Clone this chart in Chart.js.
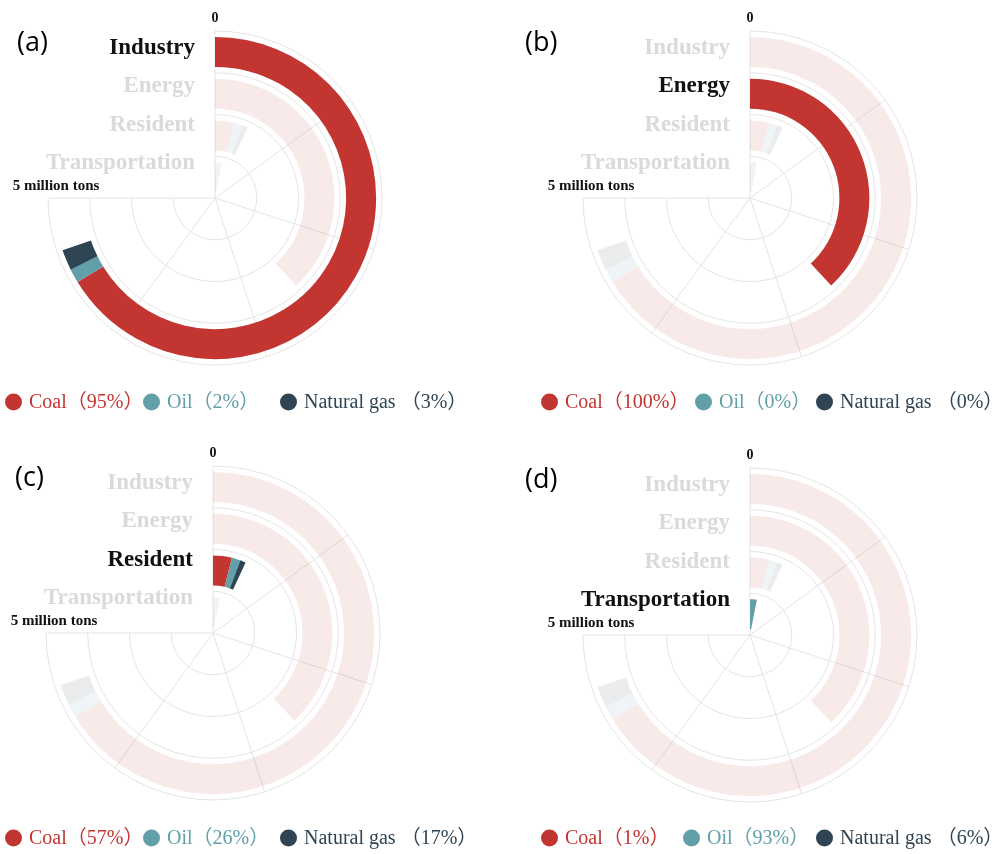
<!DOCTYPE html>
<html>
<head>
<meta charset="utf-8">
<script src="https://cdn.jsdelivr.net/npm/chart.js@4.4.1/dist/chart.umd.min.js"></script>
<style>
  body { margin: 0; background: #fff; }
  #page { position: relative; width: 1006px; height: 854px; overflow: hidden; }
  #page canvas { position: absolute; }
</style>
</head>
<body>
<div id="page">
  <canvas id="chartA" width="503" height="427" style="left:0;top:0"></canvas>
  <canvas id="chartB" width="503" height="427" style="left:503px;top:0"></canvas>
  <canvas id="chartC" width="503" height="427" style="left:0;top:427px"></canvas>
  <canvas id="chartD" width="503" height="427" style="left:503px;top:427px"></canvas>
</div>
<script>
const sectors = ['Industry', 'Energy', 'Resident', 'Transportation'];
const fuels = ['Coal', 'Oil', 'Natural gas'];
const fuelColors = ['#c23531', '#61a0a8', '#2f4554'];

// emissions of each sector, million tons
const sectorTotals = [4.65, 2.54, 0.46, 0.2];

// fuel shares (%) in each sector: coal, oil, natural gas
const industryShares = [95, 2, 3];
const energyShares = [100, 0, 0];
const residentShares = [57, 26, 17];
const transportationShares = [1, 93, 6];
const sectorShares = [industryShares, energyShares, residentShares, transportationShares];

// angle axis: 0 .. 5 million tons over three quarters of the circle
const angleMax = 5;
const angleTicks = [0, 1, 2, 3, 4, 5];
const angleSpan = 270;

const SERIF = '"Liberation Serif", "Times New Roman", "Noto Sans CJK SC", serif';
const BAR = 30, GAP = 11.75, EDGE = 5.875;

const panels = [
  { id: 'chartA', letter: '(a)', focus: 0, cx: 215, cy: 198, letterX: 17, legendY: 402, legendX: [5, 143, 280] },
  { id: 'chartB', letter: '(b)', focus: 1, cx: 247, cy: 198, letterX: 22, legendY: 402, legendX: [38, 192, 313] },
  { id: 'chartC', letter: '(c)', focus: 2, cx: 213, cy: 206, letterX: 15, legendY: 411, legendX: [5, 143, 280] },
  { id: 'chartD', letter: '(d)', focus: 3, cx: 247, cy: 208, letterX: 22, legendY: 411, legendX: [38, 180, 313] }
];

function fade(hex, a) {
  const n = parseInt(hex.slice(1), 16);
  return `rgba(${n >> 16}, ${(n >> 8) & 255}, ${n & 255}, ${a})`;
}

function spacer(w) {
  return { label: '', data: [angleMax], backgroundColor: ['rgba(0,0,0,0)'], weight: w };
}

function buildDatasets(focus) {
  const sets = [spacer(EDGE)];
  sectors.forEach((name, s) => {
    const vals = sectorShares[s].map(p => sectorTotals[s] * p / 100);
    const colors = fuelColors.map(c => s === focus ? c : fade(c, 0.1));
    sets.push({
      label: name,
      data: [...vals, angleMax - sectorTotals[s]],
      backgroundColor: [...colors, 'rgba(0,0,0,0)'],
      weight: BAR
    });
    sets.push(spacer(s < sectors.length - 1 ? GAP : EDGE));
  });
  return sets;
}

// polar grid, axis texts, sector names and the legend
const polarDecor = {
  id: 'polarDecor',
  beforeDatasetsDraw(chart, args, opts) {
    const arc = chart.getDatasetMeta(0).data[0];
    const { x, y, outerRadius: R } = arc;
    const ctx = chart.ctx;
    const toAngle = v => -Math.PI / 2 + v / angleMax * angleSpan * Math.PI / 180;
    ctx.save();
    ctx.strokeStyle = '#e4e4e4';
    ctx.lineWidth = 1;
    for (let k = 0; k < sectors.length; k++) {
      const r = R * (sectors.length - k) / sectors.length;
      ctx.beginPath();
      ctx.arc(x, y, r, toAngle(0), toAngle(angleMax));
      ctx.stroke();
    }
    angleTicks.forEach(t => {
      const a = toAngle(t);
      ctx.beginPath();
      ctx.moveTo(x, y);
      ctx.lineTo(x + R * Math.cos(a), y + R * Math.sin(a));
      ctx.stroke();
    });
    ctx.restore();
  },
  afterDraw(chart, args, opts) {
    const arc = chart.getDatasetMeta(0).data[0];
    const { x, y, outerRadius: R } = arc;
    const ctx = chart.ctx;
    ctx.save();
    ctx.textBaseline = 'middle';

    // sector names on the radius axis
    ctx.textAlign = 'right';
    ctx.font = 'bold 23px ' + SERIF;
    sectors.forEach((name, i) => {
      ctx.fillStyle = i === opts.focus ? '#111' : '#dadada';
      ctx.fillText(name, x - 20, y - 150 + i * 38.5);
    });

    // angle axis ends
    ctx.textAlign = 'center';
    ctx.fillStyle = '#111';
    ctx.font = 'bold 14px ' + SERIF;
    ctx.fillText(String(angleTicks[0]), x, y - R - 13);
    ctx.font = 'bold 15px ' + SERIF;
    ctx.fillText(angleTicks[angleTicks.length - 1] + ' million tons', x - R + 8, y - 12);

    // panel letter
    ctx.textAlign = 'left';
    ctx.fillStyle = '#000';
    ctx.font = '27px "Open Sans", "Noto Sans", sans-serif';
    ctx.fillText(opts.letter, opts.letterX, y - 155);

    // legend with the fuel shares of the highlighted sector
    ctx.font = '20px ' + SERIF;
    const shares = sectorShares[opts.focus];
    fuels.forEach((f, i) => {
      const lx = opts.legendX[i];
      ctx.fillStyle = fuelColors[i];
      ctx.beginPath();
      ctx.arc(lx + 8.5, opts.legendY, 8.5, 0, Math.PI * 2);
      ctx.fill();
      const sep = i === fuels.length - 1 ? ' ' : '';
      ctx.fillText(f + sep + '（' + shares[i] + '%）', lx + 24, opts.legendY + 1);
    });
    ctx.restore();
  }
};

panels.forEach(p => {
  const R = 167;
  new Chart(document.getElementById(p.id), {
    type: 'doughnut',
    data: { labels: [...fuels, ''], datasets: buildDatasets(p.focus) },
    options: {
      responsive: false,
      animation: false,
      events: [],
      rotation: 0,
      circumference: angleSpan,
      cutout: 0,
      borderWidth: 0,
      layout: {
        padding: { left: p.cx - R, right: 503 - p.cx - R, top: p.cy - R, bottom: 427 - p.cy - R }
      },
      plugins: {
        legend: { display: false },
        tooltip: { enabled: false },
        polarDecor: { focus: p.focus, letter: p.letter, letterX: p.letterX, legendY: p.legendY, legendX: p.legendX }
      }
    },
    plugins: [polarDecor]
  });
});
</script>
</body>
</html>
